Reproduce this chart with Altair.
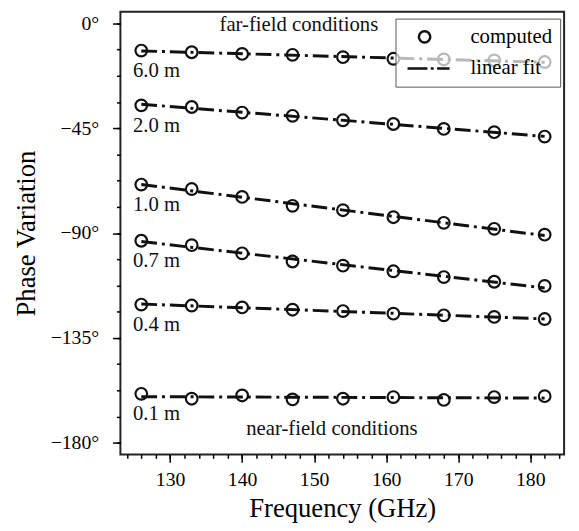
import altair as alt
import pandas as pd

# ---- data ----
freq = [126, 133, 140, 147, 154, 161, 168, 175, 182]
dist_labels = ["6.0 m", "2.0 m", "1.0 m", "0.7 m", "0.4 m", "0.1 m"]
phase_6_0 = [-11.7, -12.4, -13.1, -13.5, -14.5, -15.2, -15.5, -15.9, -16.6]
phase_2_0 = [-35.2, -35.9, -38.3, -39.7, -41.6, -43.2, -45.3, -46.7, -48.6]
phase_1_0 = [-69.2, -71.1, -74.5, -78.3, -80.2, -83.2, -85.6, -88.2, -90.7]
phase_0_7 = [-93.3, -95.2, -98.7, -102.2, -104.0, -106.4, -108.9, -110.9, -112.7]
phase_0_4 = [-120.7, -121.1, -121.9, -122.9, -123.5, -124.6, -125.3, -126.0, -126.9]
phase_0_1 = [-159.0, -161.1, -159.7, -161.4, -161.1, -160.4, -161.6, -160.4, -160.0]
series = [phase_6_0, phase_2_0, phase_1_0, phase_0_7, phase_0_4, phase_0_1]
legend_kinds = ["computed", "linear fit"]
x_major = [130, 140, 150, 160, 170, 180]
x_minor = list(range(124, 185, 2))
y_major = [0, -45, -90, -135, -180]
y_minor = [-11.25 * i for i in range(0, 17)]

rows = []
for lab, vals in zip(dist_labels, series):
    for f, p in zip(freq, vals):
        rows.append({"freq": f, "phase": p, "dist": lab, "kind": "computed"})
df = pd.DataFrame(rows)
first = pd.DataFrame({"freq": [freq[0]] * len(series),
                      "phase": [s[0] for s in series],
                      "dist": dist_labels})

FONT = "Liberation Serif"
INK = "#111111"
FIT_PATH = "M-3.0,0H0.5M1.1,0H1.6M2.2,0H4.4"

xscale = alt.Scale(domain=[123.1, 184.7], nice=False, zero=False)
yscale = alt.Scale(domain=[-185, 5], nice=False, zero=False)

x_major_axis = alt.Axis(
    title="Frequency (GHz)", values=x_major, orient="bottom",
    tickSize=8, labelPadding=8, titlePadding=6, grid=False, domain=False,
    labelOverlap=False, labelFlush=False,
)
x_minor_axis = alt.Axis(
    title=None, values=x_minor, orient="bottom", labels=False,
    tickSize=4, grid=False, domain=False,
)
y_major_axis = alt.Axis(
    title="Phase Variation", values=y_major, orient="left",
    labelExpr="(datum.value < 0 ? '\u2212' + abs(datum.value) : '' + datum.value) + '\u00b0'",
    tickSize=8, labelPadding=14, titlePadding=10, grid=False, domain=False,
    labelOverlap=False,
)
y_minor_axis = alt.Axis(
    title=None, values=y_minor, orient="left", labels=False,
    tickSize=4, grid=False, domain=False,
)

lines = alt.Chart(df).transform_regression(
    "freq", "phase", groupby=["dist"]
).mark_line(color=INK, strokeWidth=3, strokeDash=[16, 5, 3, 5]).encode(
    x=alt.X("freq:Q", scale=xscale, axis=x_major_axis),
    y=alt.Y("phase:Q", scale=yscale, axis=y_major_axis),
    detail="dist:N",
)

points = alt.Chart(df).mark_point(
    filled=False, size=140, strokeWidth=2.2, color=INK, opacity=1
).encode(
    x=alt.X("freq:Q", scale=xscale, axis=x_minor_axis),
    y=alt.Y("phase:Q", scale=yscale, axis=y_minor_axis),
    shape=alt.Shape(
        "kind:N",
        scale=alt.Scale(domain=legend_kinds, range=["circle", FIT_PATH]),
        legend=alt.Legend(
            title=None, orient="none", legendX=279, legendY=7,
            padding=8, strokeColor="#555555",
            fillColor="rgba(255,255,255,0.7)",
            labelFont=FONT, labelFontSize=21, labelColor="black",
            symbolSize=133, symbolStrokeWidth=2.5,
            symbolStrokeColor=INK, symbolFillColor="transparent",
            symbolOffset=11, labelOffset=36, rowPadding=9, zindex=1,
            cornerRadius=0,
        ),
    ),
)

labels = alt.Chart(first).mark_text(
    align="left", baseline="alphabetic", dx=-8.5, dy=26.5,
    font=FONT, fontSize=21, color=INK
).encode(
    x=alt.X("freq:Q", scale=xscale, axis=None),
    y=alt.Y("phase:Q", scale=yscale, axis=None),
    text="dist:N",
)

far = alt.Chart(pd.DataFrame({"t": ["far-field conditions"]})).mark_text(
    align="center", baseline="alphabetic", font=FONT, fontSize=21, color=INK
).encode(x=alt.value(181), y=alt.value(20), text="t:N")

near = alt.Chart(pd.DataFrame({"t": ["near-field conditions"]})).mark_text(
    align="center", baseline="alphabetic", font=FONT, fontSize=21, color=INK
).encode(x=alt.value(214.5), y=alt.value(429), text="t:N")

chart = alt.layer(lines, points, labels, far, near).resolve_axis(
    x="independent", y="independent"
).properties(
    width=450, height=449,
    padding={"left": 114, "top": 0, "right": 7, "bottom": 80},
    autosize=alt.AutoSizeParams(type="none"),
).configure_view(
    stroke="#222222", strokeWidth=2
).configure_axis(
    labelFont=FONT, titleFont=FONT, labelFontSize=20, titleFontSize=27,
    titleFontWeight="normal", labelColor="black", titleColor="black",
    tickColor="black", tickWidth=1.5,
)

chart.save("out.html", embed_options={"renderer": "svg", "actions": False})
